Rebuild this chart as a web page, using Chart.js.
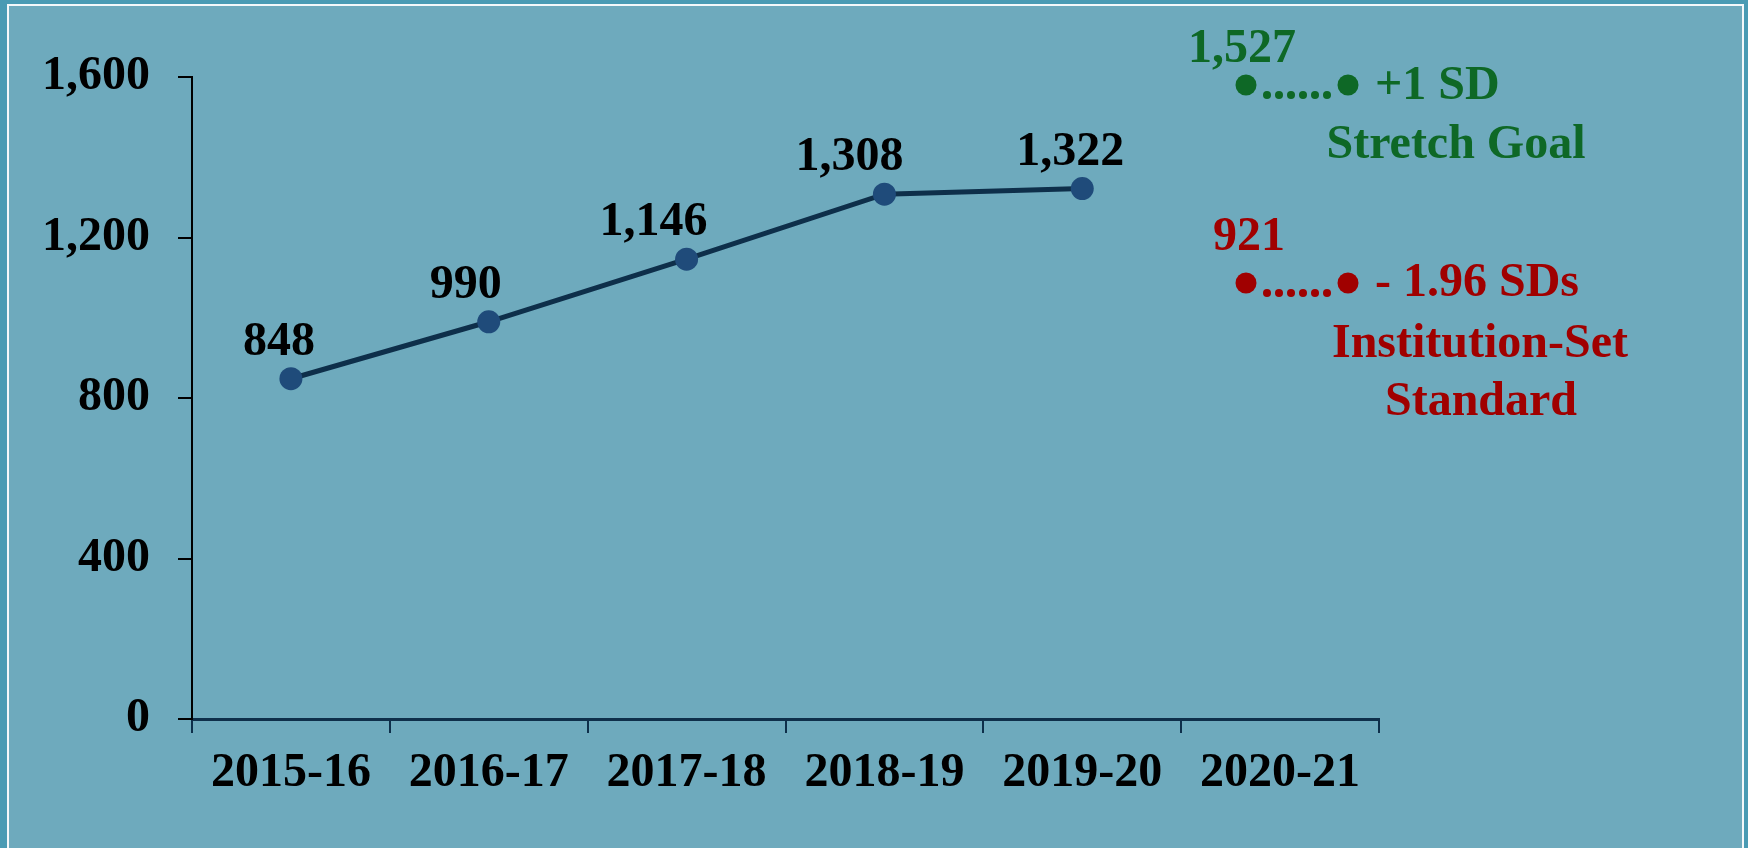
<!DOCTYPE html>
<html>
<head>
<meta charset="utf-8">
<script src="https://cdn.jsdelivr.net/npm/chart.js@4"></script>
<style>
  html, body { margin: 0; padding: 0; background: #4a9bb4; overflow: hidden; }
  #panel {
    position: absolute; left: 7px; top: 4px; width: 1733px; height: 900px;
    background: #6eaabd; border: 2px solid #f4f8fa; border-bottom: none;
  }
  #myChart { position: absolute; left: 0; top: 0; }
</style>
</head>
<body>
<div id="panel"></div>
<canvas id="myChart" width="1748" height="848"></canvas>
<script>
const years = ['2015-16', '2016-17', '2017-18', '2018-19', '2019-20', '2020-21'];
const enrolled = [848, 990, 1146, 1308, 1322, null];
const yTicks = [0, 400, 800, 1200, 1600];

const ctx = document.getElementById('myChart');

Chart.defaults.font.family = '"Liberation Serif", "Times New Roman", serif';
Chart.defaults.font.weight = 'bold';
Chart.defaults.font.size = 48;
Chart.defaults.color = '#000';

// value labels above each point
const pointLabels = {
  id: 'pointLabels',
  afterDatasetsDraw(chart, args, opts) {
    const c = chart.ctx;
    const meta = chart.getDatasetMeta(0);
    c.save();
    c.font = 'bold 48px "Liberation Serif"';
    c.fillStyle = '#000';
    c.textAlign = 'center';
    c.textBaseline = 'alphabetic';
    meta.data.forEach((pt, i) => {
      const v = enrolled[i];
      if (v == null) return;
      c.fillText(v.toLocaleString('en-US'), pt.x + opts.shift[i], pt.y - 24);
    });
    c.restore();
  }
};

// stretch goal / standard notes at the right
const notes = {
  id: 'notes',
  afterDraw(chart) {
    const c = chart.ctx;
    c.save();
    c.font = 'bold 48px "Liberation Serif"';
    c.textBaseline = 'alphabetic';

    function dots(y, col) {
      c.fillStyle = col;
      [1246, 1348].forEach(x => { c.beginPath(); c.arc(x, y, 10.5, 0, Math.PI * 2); c.fill(); });
      for (let k = 0; k < 6; k++) {
        c.beginPath(); c.arc(1267 + k * 12, y + 10, 4, 0, Math.PI * 2); c.fill();
      }
    }

    const green = '#0e6826';
    c.fillStyle = green;
    c.textAlign = 'left';
    c.fillText('1,527', 1188, 62);
    c.fillText('+1 SD', 1375, 99);
    c.textAlign = 'center';
    c.fillText('Stretch Goal', 1456, 158);
    dots(85, green);

    const red = '#a00000';
    c.fillStyle = red;
    c.textAlign = 'left';
    c.fillText('921', 1213, 250);
    c.fillText('- 1.96 SDs', 1375, 296);
    c.textAlign = 'center';
    c.fillText('Institution-Set', 1480, 357);
    c.fillText('Standard', 1481, 415);
    dots(283, red);
    c.restore();
  }
};

new Chart(ctx, {
  type: 'line',
  data: {
    labels: years,
    datasets: [{
      label: 'Enrollment',
      data: enrolled,
      borderColor: '#0e2f4a',
      borderWidth: 5,
      pointRadius: 11.5,
      pointBackgroundColor: '#1f4b7a',
      pointBorderWidth: 0,
      tension: 0
    }]
  },
  options: {
    responsive: false,
    animation: false,
    devicePixelRatio: 1,
    layout: { padding: { left: 0, right: 369, top: 77, bottom: 0 } },
    plugins: {
      legend: { display: false },
      tooltip: { enabled: false },
      pointLabels: { shift: [-12, -23, -33, -35, -12] }
    },
    scales: {
      x: {
        offset: true,
        grid: { offset: true, drawOnChartArea: false, tickLength: 14, color: '#0e2f4a', lineWidth: 2 },
        border: { color: '#0e2f4a', width: 3 },
        ticks: { padding: 12, maxRotation: 0, autoSkip: false },
        afterFit(scale) { scale.height = 129; }
      },
      y: {
        min: 0,
        max: 1600,
        afterBuildTicks(scale) { scale.ticks = yTicks.map(v => ({ value: v })); },
        grid: { drawOnChartArea: false, tickLength: 14, color: '#000', lineWidth: 2 },
        border: { color: '#000', width: 2 },
        ticks: { padding: 28 },
        afterFit(scale) { scale.width = 192; }
      }
    }
  },
  plugins: [pointLabels, notes]
});
</script>
</body>
</html>
